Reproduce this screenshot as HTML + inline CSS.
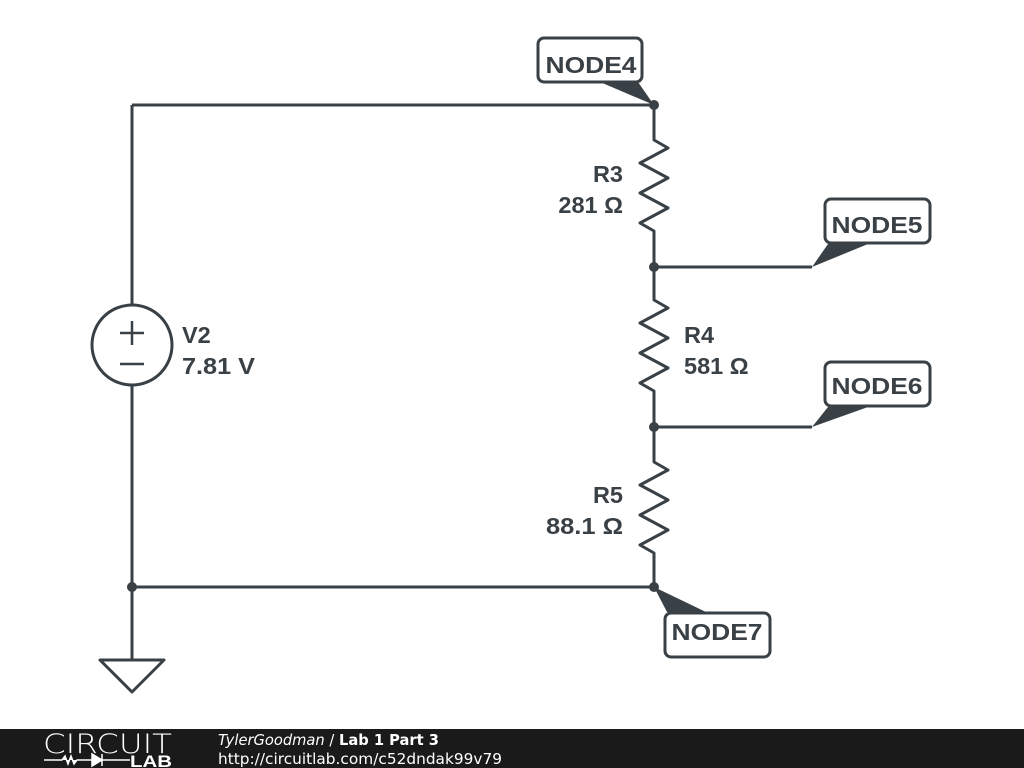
<!DOCTYPE html>
<html><head><style>
body{margin:0;width:1024px;height:768px;background:#fff;overflow:hidden;font-family:"Liberation Sans",sans-serif}
</style></head><body>
<svg width="1024" height="768" xmlns="http://www.w3.org/2000/svg" style="position:absolute;left:0;top:0">
<g stroke="#3a4146" stroke-width="3" fill="none" stroke-linejoin="round">
<path d="M132,105 H654 M132,105 V305 M132,385 V660 M132,587 H654"/>
<circle cx="132" cy="345" r="40"/>
<path d="M120,333 H144 M132,321 V345 M120,364 H144" stroke-width="2.5"/>
<path d="M100,660 H164 L132,692 Z"/>
<path d="M654,105 V140 L668,148 L640,163 L668,178 L640,193 L668,208 L640,223 L654,231 V300 L668,308 L640,323 L668,338 L640,353 L668,368 L640,383 L654,391 V462 L668,470 L640,485 L668,500 L640,515 L668,530 L640,545 L654,553 V587"/>
<path d="M654,267 H812 M654,427 H812"/>
<rect x="538" y="38" width="104" height="44" rx="6" fill="#fff"/>
<rect x="825" y="199" width="105" height="44" rx="6" fill="#fff"/>
<rect x="825" y="362" width="105" height="44" rx="6" fill="#fff"/>
<rect x="665" y="613" width="105" height="44" rx="6" fill="#fff"/>
</g>
<g fill="#3a4146">
<circle cx="654" cy="105" r="5"/><circle cx="654" cy="267" r="5"/><circle cx="654" cy="427" r="5"/><circle cx="654" cy="587" r="5"/><circle cx="132" cy="587" r="5"/>
<polygon points="600,82 638,82 654,105"/>
<polygon points="812,267 828,244 868,244"/>
<polygon points="812,427 828,407 868,407"/>
<polygon points="654,587 667,612 706,612"/>
</g>
<g fill="#3a4146" font-weight="bold" font-size="23.5">
<text x="591" y="73" text-anchor="middle" textLength="91" lengthAdjust="spacingAndGlyphs">NODE4</text>
<text x="877" y="233" text-anchor="middle" textLength="91" lengthAdjust="spacingAndGlyphs">NODE5</text>
<text x="877" y="394" text-anchor="middle" textLength="91" lengthAdjust="spacingAndGlyphs">NODE6</text>
<text x="717" y="640" text-anchor="middle" textLength="91" lengthAdjust="spacingAndGlyphs">NODE7</text>
<text x="623" y="182" text-anchor="end">R3</text>
<text x="623" y="213" text-anchor="end">281 Ω</text>
<text x="684" y="343">R4</text>
<text x="684" y="374">581 Ω</text>
<text x="623" y="503" text-anchor="end">R5</text>
<text x="623" y="534" text-anchor="end" textLength="77" lengthAdjust="spacingAndGlyphs">88.1 Ω</text>
<text x="182" y="343">V2</text>
<text x="182" y="374" textLength="73" lengthAdjust="spacingAndGlyphs">7.81 V</text>
</g>
<rect x="0" y="729" width="1024" height="39" fill="#1a1a1a"/>
<text x="43" y="753" fill="#fff" font-size="27" font-family="DejaVu Sans" font-weight="200" textLength="129" lengthAdjust="spacingAndGlyphs">CIRCUIT</text>
<path d="M44,760 H62 l3,-4 3,8 3,-8 3,8 3,-4 H92 M92,754 V766 L102,760 Z M102,754 V766 M102,760 H130" stroke="#fff" stroke-width="1.5" fill="#fff"/>
<text x="130" y="767" fill="#fff" font-size="17" font-weight="bold" textLength="42" lengthAdjust="spacingAndGlyphs">LAB</text>
<text x="218" y="745" fill="#fff" font-size="15" font-family="DejaVu Sans" textLength="221" lengthAdjust="spacingAndGlyphs"><tspan font-style="italic">TylerGoodman</tspan> / <tspan font-weight="bold">Lab 1 Part 3</tspan></text>
<text x="218" y="764" fill="#fff" font-size="15" font-family="DejaVu Sans" textLength="284" lengthAdjust="spacingAndGlyphs">http://circuitlab.com/c52dndak99v79</text>
</svg>
</body></html>
